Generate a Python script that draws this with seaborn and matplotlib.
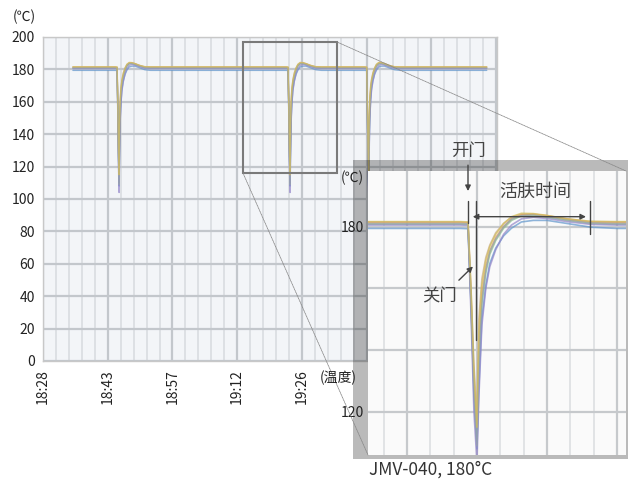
import pandas as pd
import seaborn as sns
import matplotlib.pyplot as plt
from matplotlib.patches import Rectangle, ConnectionPatch

# minutes after 18:28, ticks every 14.5 min
tick_minutes = [0, 14.5, 29, 43.5, 58, 72.5, 87, 101.5]
tick_labels = ["18:28", "18:43", "18:57", "19:12", "19:26", "19:41", "19:55", "20:10"]
temp_ticks = [0, 20, 40, 60, 80, 100, 120, 140, 160, 180, 200]

log_start = 6.7
log_end = 99.4
door_events = [16.6, 54.9, 72.5]

# minutes relative to each door opening
event_offsets = [-0.4, 0.0, 0.15, 0.3, 0.45, 0.55, 0.7, 0.9, 1.1, 1.4, 1.8, 2.2, 2.7, 3.3, 4.0, 5.0, 6.2, 7.5]

temp_tan = [181.5, 181.3, 160, 135, 118, 150, 163, 170, 174, 178, 181, 183, 184, 184, 183.5, 182.5, 181.6, 181.5]
temp_orange = [181.3, 181.2, 158, 130, 112, 140, 158, 167, 172, 176.5, 180, 182.5, 183.8, 184, 183.5, 182.4, 181.4, 181.3]
temp_green = [180.8, 180.7, 156, 128, 110, 135, 155, 165, 171, 175.5, 179.5, 182, 183.5, 183.6, 183, 182, 181, 180.8]
temp_blue = [179.4, 179.3, 155, 125, 108, 128, 150, 161, 168, 173, 177, 179.5, 181.5, 182, 182, 181, 179.8, 179.4]
temp_purple = [180.5, 180.4, 152, 120, 104, 125, 148, 160, 167, 172.5, 177.5, 180.5, 182.5, 183, 182.6, 181.6, 180.7, 180.5]
temp_grey = [181, 180.9, 157, 128, 109, 138, 156, 166, 172, 176, 180, 182.5, 183.5, 183.8, 183.2, 182.2, 181.2, 181]
temp_yellow = [181.6, 181.5, 160, 133, 115, 146, 161, 169, 173.5, 177.5, 181, 183.2, 184.3, 184.2, 183.6, 182.5, 181.7, 181.6]

trace_names = ["tan", "orange", "green", "blue", "purple", "grey", "yellow"]
trace_temps = [temp_tan, temp_orange, temp_green, temp_blue, temp_purple, temp_grey, temp_yellow]
trace_colors = ["#c9ab85", "#e59866", "#86bb86", "#5f95cc", "#9385c9", "#9aa3ab", "#d3be5a"]

# zoomed window (main chart box)
box_x = [44.8, 65.8]
box_y = [116, 197]

rows = []
for name, temps in zip(trace_names, trace_temps):
    rows.append((name, log_start, temps[0]))
    for t0 in door_events:
        for off, v in zip(event_offsets, temps):
            rows.append((name, t0 + off, v))
    rows.append((name, log_end, temps[-1]))
df = pd.DataFrame(rows, columns=["trace", "minute", "temp"])
palette = dict(zip(trace_names, trace_colors))

sns.set_style("white")
plt.rcParams["font.family"] = ["Noto Sans CJK SC", "DejaVu Sans"]

fig = plt.figure(figsize=(6.28, 4.83), dpi=100)
W, H = 628.0, 483.0

# ---------------- main chart ----------------
ax = fig.add_axes([43 / W, 1 - 361 / H, 454 / W, 324 / H])
ax.set_facecolor("#f3f5f8")
sns.lineplot(data=df, x="minute", y="temp", hue="trace", palette=palette, estimator=None,
             sort=False, legend=False, lw=1.0, alpha=0.7, ax=ax)
ax.set_xticks(tick_minutes)
ax.set_xticklabels(tick_labels, rotation=90, fontsize=10, color="#222")
ax.set_xticks([m + k * 2.9 for m in tick_minutes for k in range(1, 5)], minor=True)
ax.set_yticks(temp_ticks)
ax.set_yticklabels([str(v) for v in temp_ticks], fontsize=10, color="#222")
ax.set_xlim(0, 101.7)
ax.set_ylim(0, 200)
# labels under the zoom frame are covered in the original
for lab in ax.get_xticklabels()[5:]:
    lab.set_visible(False)
ax.grid(True, which="major", axis="both", color="#c3c7cc", lw=1.6)
ax.grid(True, which="minor", axis="x", color="#dde0e4", lw=1.4)
ax.set_axisbelow(True)
ax.tick_params(axis="both", which="major", length=4, width=1, color="#b0b0b0", pad=2)
ax.tick_params(axis="x", which="minor", length=0)
for s in ax.spines.values():
    s.set_color("#c8c8c8")
    s.set_linewidth(1)
ax.set_xlabel("")
ax.set_ylabel("")

ax.add_patch(Rectangle((box_x[0], box_y[0]), box_x[1] - box_x[0], box_y[1] - box_y[0],
                       fill=False, ec="#7a7a7a", lw=1.5, zorder=5))

# translucent grey frame around the zoom
fig.patches.append(Rectangle((353 / W, 1 - 459 / H), 1 - 353 / W, 299 / H,
                             transform=fig.transFigure, fc="black", ec="none", alpha=0.27, zorder=2))

# ---------------- zoom chart ----------------
t0 = door_events[1]
px_min = 19.8
ins_left = t0 - 100 / px_min
ins_right = ins_left + 258 / px_min
axin = fig.add_axes([368 / W, 1 - 455 / H, 258 / W, 284 / H], zorder=3)
axin.set_facecolor("#fafafa")
sns.lineplot(data=df, x="minute", y="temp", hue="trace", palette=palette, estimator=None,
             sort=False, legend=False, lw=1.2, alpha=0.7, ax=axin)
major_x = [ins_left + 39 / px_min + k * 70 / px_min for k in range(4)]
minor_x = [m + j * 23.3 / px_min for m in [ins_left + 39 / px_min - 70 / px_min] + major_x for j in (1, 2)]
axin.set_xticks(major_x)
axin.set_xticks(minor_x, minor=True)
axin.set_xticklabels([])
axin.set_yticks([120, 140, 160, 180])
axin.set_yticklabels(["120", "", "", "180"], fontsize=10, color="#222")
axin.set_xlim(ins_left, ins_right)
axin.set_ylim(106, 198)
axin.tick_params(axis="both", which="both", length=0, pad=3)
axin.grid(True, which="major", axis="both", color="#c6c9cc", lw=1.6)
axin.grid(True, which="minor", axis="x", color="#e1e3e5", lw=1.4)
axin.set_axisbelow(True)
for s in axin.spines.values():
    s.set_visible(False)
axin.set_xlabel("")
axin.set_ylabel("")

# annotations on the zoom
ann = dict(color="#444", lw=1.0)
axin.annotate("", xy=(t0, 190.6), xytext=(t0, 200.8), annotation_clip=False,
              arrowprops=dict(arrowstyle="-|>", color="#444", lw=1.0, mutation_scale=8))
axin.text(t0, 204.5, "开门", ha="center", va="center", fontsize=12.5, color="#444", clip_on=False)
axin.annotate("", xy=(t0 + 0.1, 183.2), xytext=(t0 + 6.1, 183.2),
              arrowprops=dict(arrowstyle="<|-|>", color="#444", lw=1.0, mutation_scale=8))
axin.plot([t0, t0], [181.3, 188.4], **ann)
axin.plot([t0 + 0.4, t0 + 0.4], [143.2, 188.4], **ann)
axin.plot([t0 + 6.16, t0 + 6.16], [177.7, 188.4], **ann)
axin.text(t0 + 3.4, 191.3, "活肤时间", ha="center", va="center", fontsize=13, color="#444")
axin.annotate("", xy=(t0 + 0.35, 167.7), xytext=(t0 - 0.56, 162),
              arrowprops=dict(arrowstyle="-|>", color="#444", lw=1.0, mutation_scale=8))
axin.text(t0 - 1.46, 157.4, "关门", ha="center", va="center", fontsize=12.5, color="#444")

# connector lines from the box to the zoom
for (bx, by), (ix, iy) in [((box_x[1], box_y[1]), (1, 1)), ((box_x[0], box_y[0]), (0, 0))]:
    con = ConnectionPatch(xyA=(bx, by), coordsA="data", axesA=ax,
                          xyB=(ix, iy), coordsB="axes fraction", axesB=axin,
                          color="#888", lw=0.6, ls=(0, (1, 1)), zorder=6)
    fig.add_artist(con)

# texts
fig.text(24 / W, 1 - 17 / H, "(℃)", ha="center", va="center", fontsize=10, color="#222", zorder=6)
fig.text(338 / W, 1 - 378 / H, "(温度)", ha="center", va="center", fontsize=10, color="#222", zorder=6)
fig.text(352 / W, 1 - 178 / H, "(℃)", ha="center", va="center", fontsize=10, color="#222", zorder=6)
fig.text(431 / W, 1 - 470 / H, "JMV-040, 180°C", ha="center", va="center", fontsize=12.5,
         color="#333", zorder=6)

fig.savefig("out.png", dpi=100)
